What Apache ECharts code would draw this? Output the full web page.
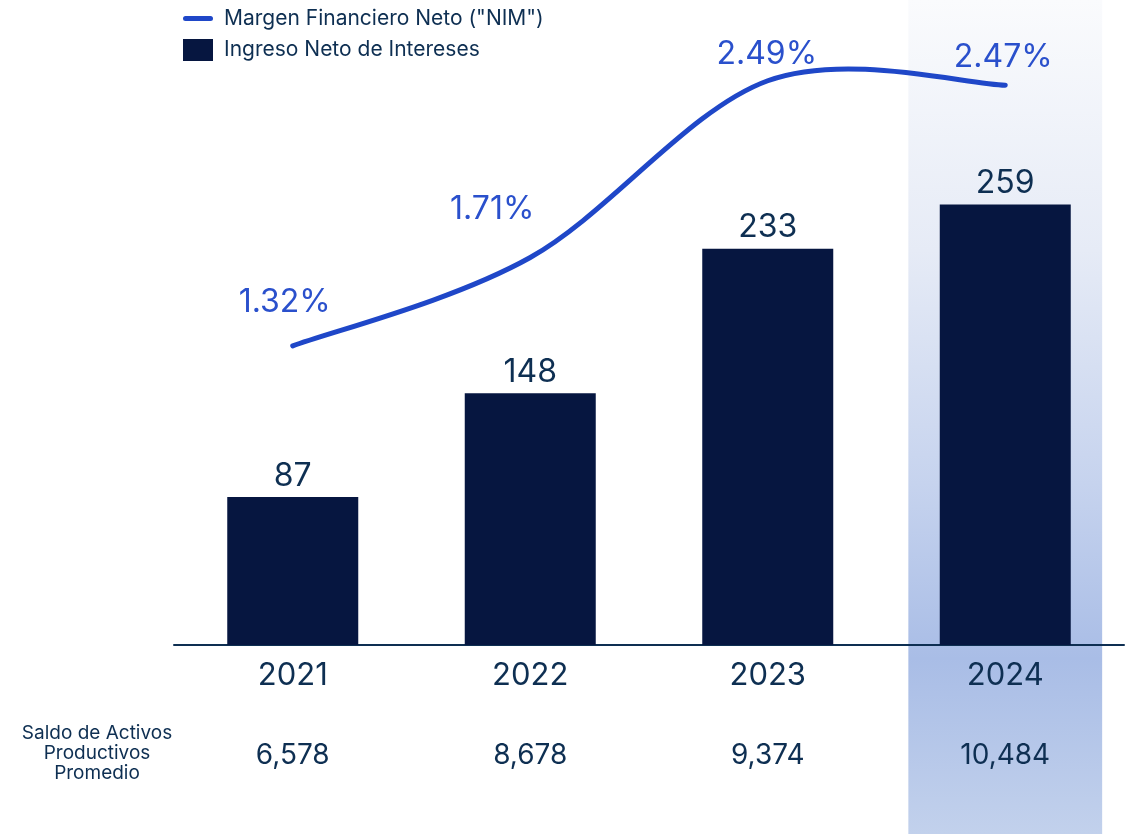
<!DOCTYPE html>
<html>
<head>
<meta charset="utf-8">
<title>Margen Financiero Neto</title>
<script src="https://cdn.jsdelivr.net/npm/echarts@6/dist/echarts.min.js"></script>
<style>
  html, body { margin: 0; padding: 0; background: #ffffff; }
  #chart { width: 1133px; height: 834px; }
</style>
</head>
<body>
<div id="chart"></div>
<script>
// Años del periodo
const years = ['2021', '2022', '2023', '2024'];
// Ingreso Neto de Intereses (barras)
const netInterestIncome = [87, 148, 233, 259];
// Margen Financiero Neto, % (línea)
const nimPct = [1.32, 1.71, 2.49, 2.47];
// Saldo de Activos Productivos Promedio (fila inferior)
const avgEarningAssets = ['6,578', '8,678', '9,374', '10,484'];
// Año resaltado con banda de fondo
const highlightYear = '2024';

const NAVY = '#061640';
const TEXT = '#0e2f52';
const BLUE = '#1f47c8';
const FONT = 'Inter, "Noto Sans", sans-serif';
const NIM_NAME = 'Margen Financiero Neto ("NIM")';

// Desplazamiento de cada etiqueta de porcentaje respecto a su punto
const nimLabelOffsets = [[-8, -27], [-38, -32], [-1, -10], [-2, -11]];

// Curva Catmull-Rom que pasa por los puntos del NIM (en píxeles)
function catmullRomPath(pts) {
  const n = pts.length;
  const tan = pts.map((p, i) => {
    const a = pts[Math.max(i - 1, 0)];
    const b = pts[Math.min(i + 1, n - 1)];
    return [(b[0] - a[0]) / 2, (b[1] - a[1]) / 2];
  });
  let d = 'M' + pts[0][0] + ' ' + pts[0][1];
  for (let i = 0; i < n - 1; i++) {
    const p = pts[i], q = pts[i + 1];
    const c1 = [p[0] + tan[i][0] / 3, p[1] + tan[i][1] / 3];
    const c2 = [q[0] - tan[i + 1][0] / 3, q[1] - tan[i + 1][1] / 3];
    d += ' C' + c1[0] + ' ' + c1[1] + ' ' + c2[0] + ' ' + c2[1] + ' ' + q[0] + ' ' + q[1];
  }
  return d;
}

const chart = echarts.init(document.getElementById('chart'), null, { renderer: 'canvas' });

const option = {
  animation: false,
  textStyle: { fontFamily: FONT },
  legend: {
    orient: 'vertical',
    left: 178,
    top: 3,
    itemWidth: 30,
    itemHeight: 22,
    itemGap: 10,
    textStyle: { fontFamily: FONT, fontSize: 21, color: TEXT, padding: [0, 0, 0, 6] },
    data: [
      { name: NIM_NAME,
        icon: 'path://M2.5,0 L27.5,0 A2.5,2.5 0 0 1 27.5,5 L2.5,5 A2.5,2.5 0 0 1 2.5,0 Z',
        itemStyle: { color: BLUE } },
      { name: 'Ingreso Neto de Intereses', icon: 'rect', itemStyle: { color: NAVY } }
    ]
  },
  grid: { left: 174, right: 9, top: 60, bottom: 189, containLabel: false },
  xAxis: {
    type: 'category',
    data: years,
    axisLine: { lineStyle: { color: TEXT, width: 2 } },
    axisTick: { show: false },
    axisLabel: {
      margin: 13,
      formatter: (v, i) => '{y|' + v + '}\n{s|' + avgEarningAssets[i] + '}',
      rich: {
        y: { fontFamily: FONT, fontSize: 31, color: TEXT, lineHeight: 36 },
        s: { fontFamily: FONT, fontSize: 28, color: TEXT, lineHeight: 124 }
      }
    }
  },
  yAxis: [
    { type: 'value', min: 0, max: 344, show: false, splitLine: { show: false } },
    { type: 'value', min: 0, max: 2.5816, show: false, splitLine: { show: false } }
  ],
  graphic: [],
  series: [
    {
      name: 'Ingreso Neto de Intereses',
      type: 'bar',
      yAxisIndex: 0,
      data: netInterestIncome,
      barWidth: 131,
      itemStyle: { color: NAVY },
      z: 3,
      label: {
        show: true,
        position: 'top',
        distance: 5,
        fontFamily: FONT,
        fontSize: 32,
        color: TEXT
      }
    },
    {
      // Trazo suave del NIM
      name: NIM_NAME,
      type: 'custom',
      yAxisIndex: 1,
      z: 4,
      silent: true,
      data: nimPct.map((v, i) => [i, v]),
      renderItem: (params, api) => {
        if (params.dataIndex !== 0) return null;
        const pts = nimPct.map((v, i) => api.coord([i, v]));
        return {
          type: 'path',
          shape: { pathData: catmullRomPath(pts) },
          style: { fill: 'none', stroke: BLUE, lineWidth: 5, lineCap: 'round', lineJoin: 'round' }
        };
      }
    },
    {
      // Puntos del NIM con sus etiquetas
      name: NIM_NAME,
      type: 'line',
      yAxisIndex: 1,
      symbol: 'circle',
      symbolSize: 1,
      showSymbol: true,
      itemStyle: { color: BLUE },
      lineStyle: { width: 0, opacity: 0 },
      z: 5,
      data: nimPct.map((v, i) => ({
        value: v,
        label: { offset: nimLabelOffsets[i] }
      })),
      label: {
        show: true,
        position: 'top',
        distance: 0,
        fontFamily: FONT,
        fontSize: 32,
        color: '#2a50cc',
        formatter: p => p.value.toFixed(2) + '%'
      }
    }
  ]
};

chart.setOption(option);

// Banda vertical de fondo para el año resaltado, centrada en su categoría
function drawHighlight() {
  const idx = years.indexOf(highlightYear);
  const cx = chart.convertToPixel({ xAxisIndex: 0 }, idx);
  const step = chart.convertToPixel({ xAxisIndex: 0 }, 1) - chart.convertToPixel({ xAxisIndex: 0 }, 0);
  const w = step * 0.816;
  const h = chart.getHeight();
  chart.setOption({
    graphic: [
      {
        type: 'rect',
        z: -10,
        silent: true,
        shape: { x: cx - w / 2, y: 0, width: w, height: h },
        style: {
          fill: new echarts.graphic.LinearGradient(0, 0, 0, 1, [
            { offset: 0, color: '#fafbfd' },
            { offset: 0.3, color: '#e6ebf6' },
            { offset: 0.58, color: '#c6d3ee' },
            { offset: 0.79, color: '#a9bde6' },
            { offset: 1, color: '#c2d1ec' }
          ])
        }
      },
      {
        type: 'text',
        z: 5,
        x: 97,
        y: 723,
        style: {
          text: 'Saldo de Activos\nProductivos\nPromedio',
          fontFamily: FONT,
          fontSize: 19,
          lineHeight: 20,
          fill: TEXT,
          align: 'center',
          verticalAlign: 'top'
        }
      }
    ]
  });
}
drawHighlight();
</script>
</body>
</html>
